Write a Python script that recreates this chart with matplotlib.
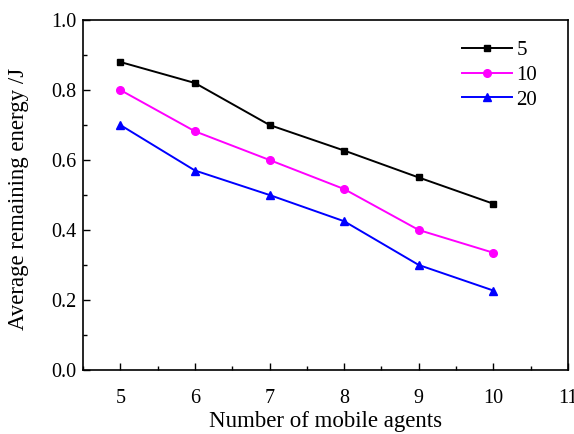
import matplotlib
matplotlib.use("Agg")
import matplotlib.pyplot as plt
from matplotlib.ticker import MultipleLocator, FormatStrFormatter

agents = [5, 6, 7, 8, 9, 10]
series_5 = [0.88, 0.82, 0.70, 0.627, 0.55, 0.475]
series_10 = [0.80, 0.682, 0.60, 0.517, 0.40, 0.335]
series_20 = [0.70, 0.57, 0.50, 0.425, 0.30, 0.227]
labels = ["5", "10", "20"]

plt.rcParams['font.family'] = ['Liberation Serif', 'DejaVu Serif']
fig = plt.figure(figsize=(5.74, 4.34), dpi=100)
ax = fig.add_axes([83/574, 64/434, (568-83)/574, (370-20)/434])

ax.plot(agents, series_5, color='black', marker='s', markersize=5, lw=1.4, label=labels[0])
ax.plot(agents, series_10, color='#ff00ff', marker='o', markersize=5.5, lw=1.4, label=labels[1])
ax.plot(agents, series_20, color='#0000ff', marker='^', markersize=6, lw=1.4, label=labels[2])

ax.set_xlim(4.5, 11)
ax.set_ylim(0.0, 1.0)
ax.xaxis.set_major_locator(MultipleLocator(1))
ax.xaxis.set_minor_locator(MultipleLocator(0.5))
ax.yaxis.set_major_locator(MultipleLocator(0.2))
ax.yaxis.set_minor_locator(MultipleLocator(0.1))
ax.yaxis.set_major_formatter(FormatStrFormatter('%.1f'))
ax.tick_params(which='both', direction='in', labelsize=14.5, top=False, right=False)
ax.tick_params(which='major', length=5, width=1)
ax.tick_params(which='minor', length=3, width=1)
ax.tick_params(axis='x', pad=14)
ax.tick_params(axis='y', pad=5)
for s in ax.spines.values():
    s.set_linewidth(1.2)

ax.set_xlabel('Number of mobile agents', fontsize=16.5)
ax.set_ylabel('Average remaining energy /J', fontsize=16.5)
ax.xaxis.set_label_coords(0.5, -0.118)
ax.yaxis.set_label_coords(-0.112, 0.49)

ax.legend(loc='upper right', frameon=False, fontsize=15, bbox_to_anchor=(0.975, 0.995),
          handlelength=2.4, handletextpad=0.2, labelspacing=0.25)

fig.savefig('out.png', dpi=100)
